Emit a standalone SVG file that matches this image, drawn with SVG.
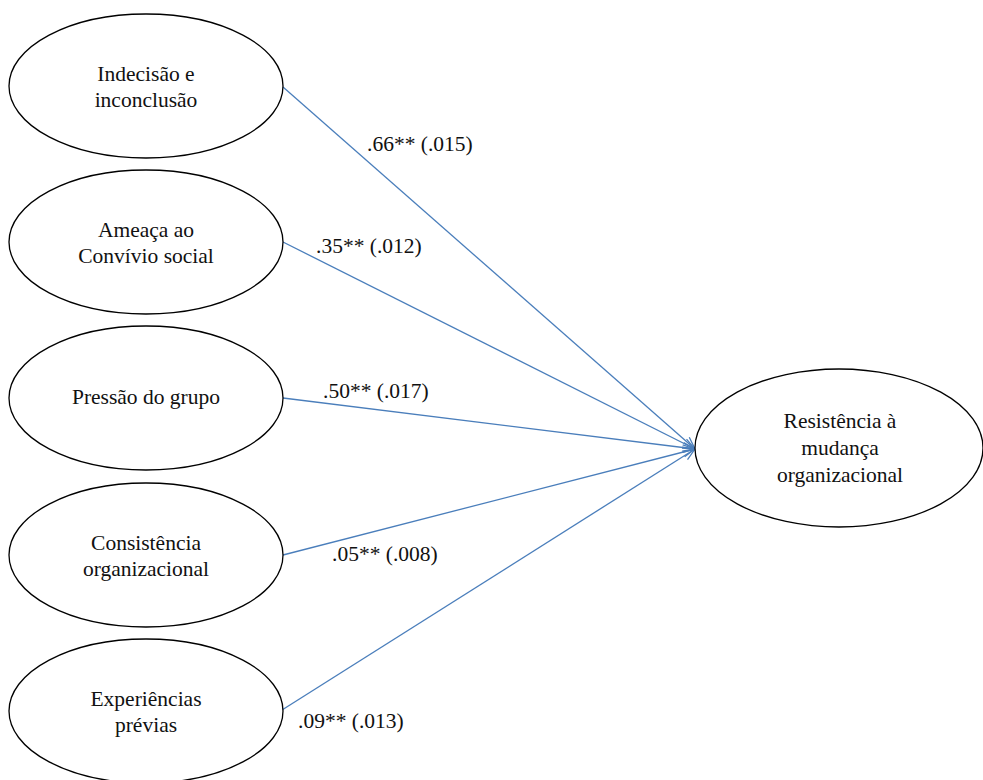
<svg xmlns="http://www.w3.org/2000/svg" width="983" height="780" viewBox="0 0 983 780" font-family="'Liberation Serif', 'DejaVu Serif', serif">
<style>
.node ellipse{fill:#fff;stroke:#000;stroke-width:1.3}
text{font-family:'Liberation Serif','DejaVu Serif',serif;font-size:21.5px;fill:#111}
.node text{text-anchor:middle}
.edge{stroke:#4A7EBB;stroke-width:1.3;fill:none;marker-end:url(#arr)}
</style>
<defs>
<marker id="arr" viewBox="0 0 14 12" refX="13" refY="6" markerWidth="14" markerHeight="12" markerUnits="userSpaceOnUse" orient="auto">
<path d="M1,1 L13,6 L1,11" fill="none" stroke="#4A7EBB" stroke-width="1.3"/>
</marker>
</defs>
<rect width="983" height="780" fill="#fff"/>
<g id="connectors">
<line class="edge" x1="283" y1="87" x2="695" y2="449"/>
<line class="edge" x1="283" y1="242" x2="695" y2="449"/>
<line class="edge" x1="283" y1="398" x2="695" y2="449"/>
<line class="edge" x1="283" y1="555" x2="695" y2="449"/>
<line class="edge" x1="282" y1="710" x2="695" y2="449"/>
<text x="367" y="151">.66** (.015)</text>
<text x="316" y="253">.35** (.012)</text>
<text x="323" y="398">.50** (.017)</text>
<text x="332" y="561">.05** (.008)</text>
<text x="298" y="728">.09** (.013)</text>
</g>
<g id="n1" class="node">
<ellipse cx="146" cy="86" rx="137" ry="72"/>
<text x="146" y="81">Indecisão e</text>
<text x="146" y="107">inconclusão</text>
</g>
<g id="n2" class="node">
<ellipse cx="146" cy="242" rx="137" ry="72"/>
<text x="146" y="237">Ameaça ao</text>
<text x="146" y="263">Convívio social</text>
</g>
<g id="n3" class="node">
<ellipse cx="146" cy="398" rx="137" ry="72"/>
<text x="146" y="404">Pressão do grupo</text>
</g>
<g id="n4" class="node">
<ellipse cx="146" cy="555" rx="137" ry="72"/>
<text x="146" y="550">Consistência</text>
<text x="146" y="576">organizacional</text>
</g>
<g id="n5" class="node">
<ellipse cx="146" cy="711" rx="137" ry="72"/>
<text x="146" y="706">Experiências</text>
<text x="146" y="732">prévias</text>
</g>
<g id="target" class="node">
<ellipse cx="839" cy="448" rx="144" ry="79"/>
<text x="840" y="428">Resistência à</text>
<text x="840" y="455">mudança</text>
<text x="840" y="482">organizacional</text>
</g>
</svg>
